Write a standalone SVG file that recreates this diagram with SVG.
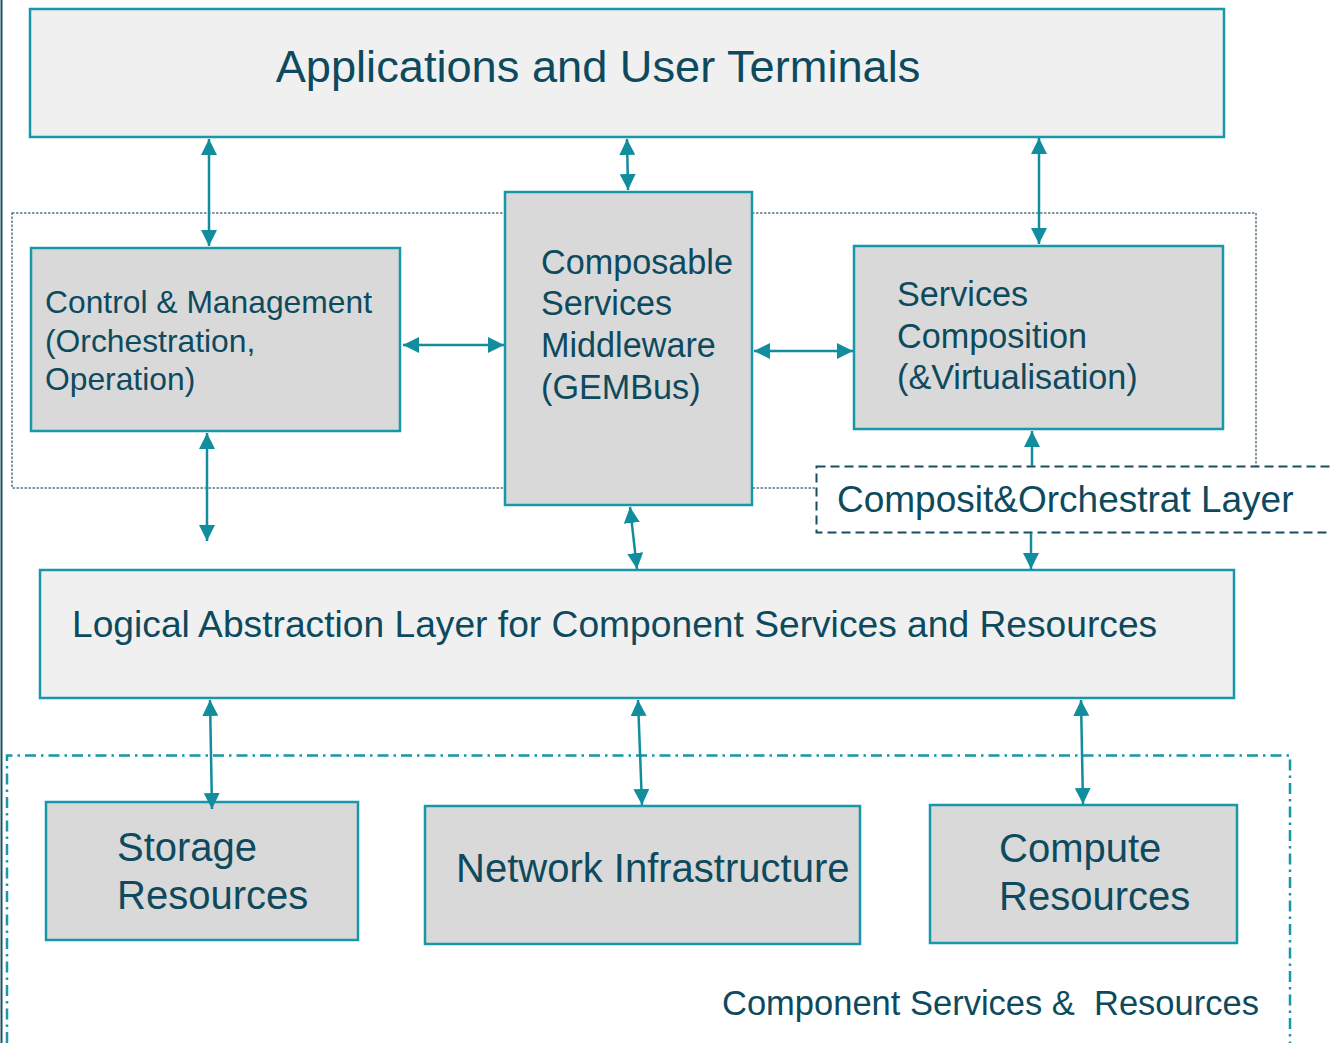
<svg xmlns="http://www.w3.org/2000/svg" width="1330" height="1043" viewBox="0 0 1330 1043">
<style>
  .box{stroke:#1797a8;stroke-width:2.5}
  .light{fill:#f0f0f0}
  .gray{fill:#d9d9d9}
  .t{font-family:"Liberation Sans",Arial,sans-serif;fill:#0e4a5e}
  .conn{stroke:#118d9d;stroke-width:2.5;fill:none;marker-end:url(#ah)}
  .both{marker-start:url(#ah)}
</style>
<defs>
  <marker id="ah" viewBox="0 0 10 10" refX="10" refY="5" markerWidth="16" markerHeight="16" markerUnits="userSpaceOnUse" orient="auto-start-reverse">
    <path d="M0,0 L10,5 L0,10 z" fill="#118d9d"/>
  </marker>
</defs>
<rect width="1330" height="1043" fill="#ffffff"/>
<line x1="1.5" y1="0" x2="1.5" y2="1043" stroke="#1b4f63" stroke-width="2"/>

<g id="frame-composit">
  <rect x="12" y="213" width="1244" height="275" fill="none" stroke="#5a7888" stroke-width="1.5" stroke-dasharray="2.5 1.5"/>
</g>
<g id="frame-component">
  <path d="M7,1043 V755.5 H1290 V1043" fill="none" stroke="#1797a8" stroke-width="2.5" stroke-dasharray="11 5 2.5 5"/>
  <text class="t" x="722" y="1015" font-size="34.5" style="white-space:pre" xml:space="preserve">Component Services &amp;  Resources</text>
</g>

<g id="apps">
  <rect class="box light" x="30" y="9" width="1194" height="128"/>
  <text class="t" x="598" y="82" font-size="45.2" text-anchor="middle">Applications and User Terminals</text>
</g>
<g id="control">
  <rect class="box gray" x="31" y="248" width="369" height="183"/>
  <text class="t" font-size="31.8"><tspan x="45" y="313">Control &amp; Management</tspan><tspan x="45" y="352">(Orchestration,</tspan><tspan x="45" y="390">Operation)</tspan></text>
</g>
<g id="middleware">
  <rect class="box gray" x="505" y="192" width="247" height="313"/>
  <text class="t" font-size="34.2"><tspan x="541" y="274">Composable</tspan><tspan x="541" y="315">Services</tspan><tspan x="541" y="357">Middleware</tspan><tspan x="541" y="399">(GEMBus)</tspan></text>
</g>
<g id="services">
  <rect class="box gray" x="854" y="246" width="369" height="183"/>
  <text class="t" font-size="34.2"><tspan x="897" y="306">Services</tspan><tspan x="897" y="348">Composition</tspan><tspan x="897" y="389">(&amp;Virtualisation)</tspan></text>
</g>
<g id="composit-layer">
  <rect x="816.5" y="466.5" width="530" height="66" fill="#ffffff" stroke="#1a4d60" stroke-width="2" stroke-dasharray="9 5"/>
  <text class="t" x="837" y="512" font-size="37">Composit&amp;Orchestrat Layer</text>
</g>
<g id="logical">
  <rect class="box light" x="40" y="570" width="1194" height="128"/>
  <text class="t" x="72" y="637" font-size="37.2">Logical Abstraction Layer for Component Services and Resources</text>
</g>
<g id="storage">
  <rect class="box gray" x="46" y="802" width="312" height="138"/>
  <text class="t" font-size="40"><tspan x="117" y="861">Storage</tspan><tspan x="117" y="909">Resources</tspan></text>
</g>
<g id="network">
  <rect class="box gray" x="425" y="806" width="435" height="138"/>
  <text class="t" x="456" y="882" font-size="40">Network Infrastructure</text>
</g>
<g id="compute">
  <rect class="box gray" x="930" y="805" width="307" height="138"/>
  <text class="t" font-size="40"><tspan x="999" y="862">Compute</tspan><tspan x="999" y="910">Resources</tspan></text>
</g>

<g id="connectors">
  <line class="conn both" x1="209" y1="139" x2="209" y2="246"/>
  <line class="conn both" x1="627" y1="139" x2="628" y2="190"/>
  <line class="conn both" x1="1039" y1="138" x2="1039" y2="244"/>
  <line class="conn both" x1="403" y1="345" x2="504" y2="345"/>
  <line class="conn both" x1="754" y1="351" x2="853" y2="351"/>
  <line class="conn both" x1="207" y1="433" x2="207" y2="541"/>
  <line class="conn both" x1="630" y1="507" x2="637" y2="569"/>
  <line class="conn" x1="1032" y1="466" x2="1032" y2="431"/>
  <line class="conn" x1="1031" y1="533" x2="1031" y2="569"/>
  <line class="conn both" x1="210" y1="700" x2="212" y2="809"/>
  <line class="conn both" x1="638" y1="700" x2="642" y2="805"/>
  <line class="conn both" x1="1081" y1="700" x2="1083" y2="804"/>
</g>
</svg>
